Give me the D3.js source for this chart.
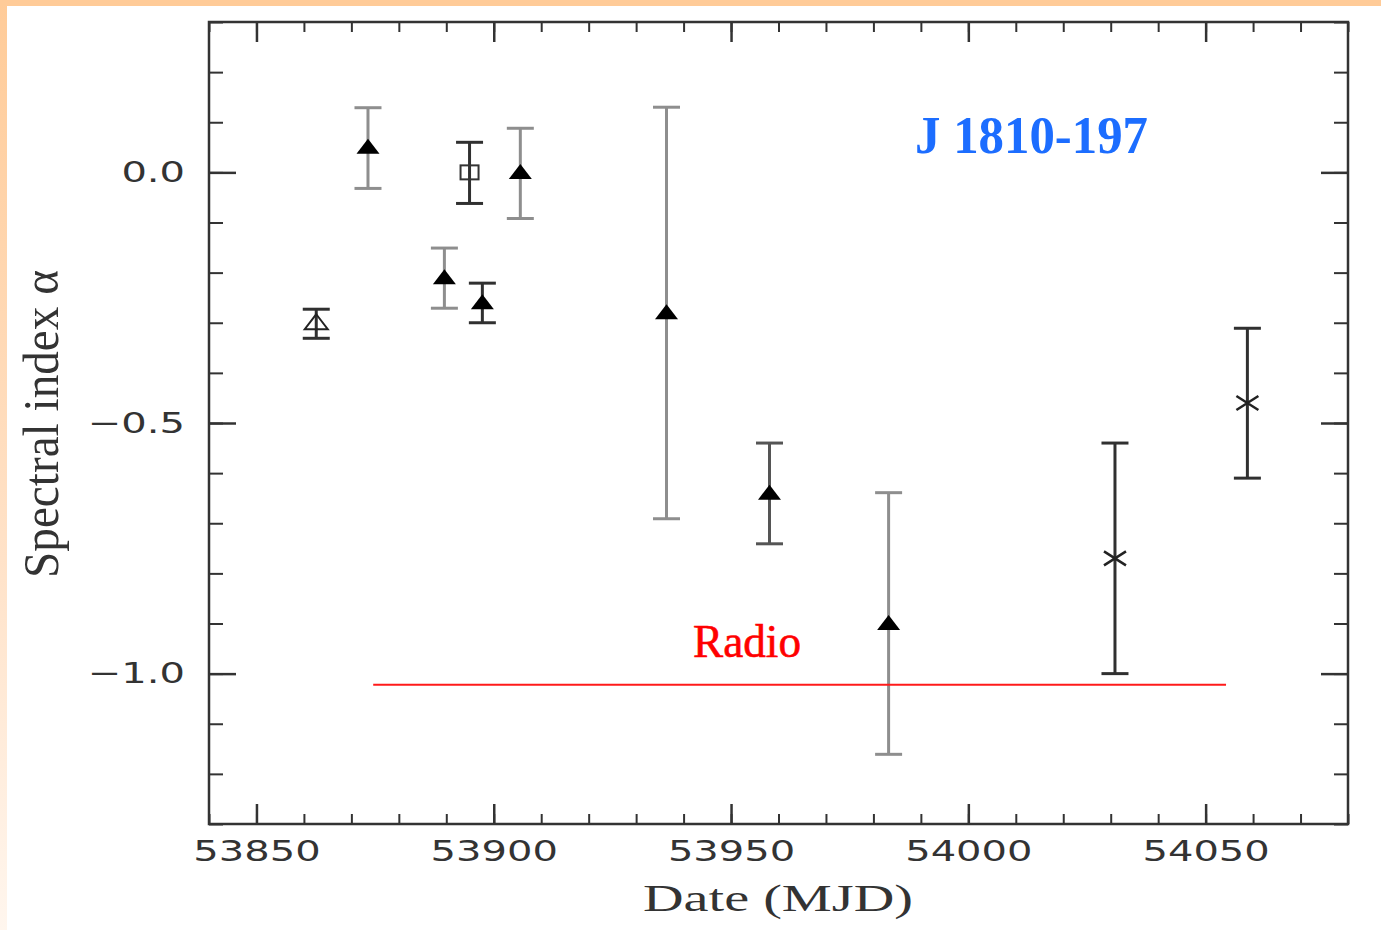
<!DOCTYPE html>
<html>
<head>
<meta charset="utf-8">
<script src="https://cdn.jsdelivr.net/npm/d3@7"></script>
<style>
  html, body { margin: 0; padding: 0; background: #fff; }
  svg { display: block; }
</style>
</head>
<body>
<svg id="chart" width="1381" height="930"></svg>
<script>
// ---- data ----
const mjd      = [53862.6, 53873.5, 53894.9, 53905.6, 53889.6, 53897.6, 53936.4, 53958.1, 53983.2, 54030.9, 54058.8];
const alpha    = [-0.30,   0.05,    0.0,     0.0,     -0.21,   -0.26,   -0.28,   -0.64,   -0.90,   -0.77,   -0.46];
const alphaLo  = [-0.331, -0.032,  -0.062,  -0.092,  -0.271,  -0.300,  -0.691,  -0.741,  -1.161,  -1.000,  -0.610];
const alphaHi  = [-0.273,  0.129,   0.060,   0.088,  -0.151,  -0.221,   0.130,  -0.540,  -0.639,  -0.540,  -0.311];
const markers  = ["openTriangle","triangle","square","triangle","triangle","triangle","triangle","triangle","triangle","cross","cross"];
const barTones = ["dark","gray","dark","gray","gray","dark","gray","mid","gray","dark","dark"];

const radioMjd   = [53874.6, 54054.3];
const radioAlpha = -1.022;

const xMajorTicks = [53850, 53900, 53950, 54000, 54050];
const xMinorTicks = d3.range(53840, 54081, 10);
const yMajorTicks = [-1.0, -0.5, 0.0];
const yMinorTicks = d3.range(-13, 4, 1).map(d => d / 10);

const title = "J 1810-197";
const xTitle = "Date (MJD)";
const yTitle = "Spectral index α";
const radioLabel = "Radio";

// ---- layout ----
const svg = d3.select("#chart");
const W = 1381, H = 930;
const L = 209, R = 1348, T = 22, B = 824;
const stretch = 1.38;

const x = d3.scaleLinear().domain([53840, 54080]).range([L, R]);
const y = d3.scaleLinear().domain([-1.3, 0.3]).range([B, T]);

// background with orange border strips
const defs = svg.append("defs");
const grad = defs.append("linearGradient").attr("id", "leftGrad")
  .attr("x1", 0).attr("y1", 0).attr("x2", 0).attr("y2", 1);
grad.append("stop").attr("offset", "0%").attr("stop-color", "#ffcb98");
grad.append("stop").attr("offset", "60%").attr("stop-color", "#ffe2c8");
grad.append("stop").attr("offset", "100%").attr("stop-color", "#fff6ee");

svg.append("rect").attr("width", W).attr("height", H).attr("fill", "#ffffff");
svg.append("rect").attr("x", 0).attr("y", 0).attr("width", 7).attr("height", H).attr("fill", "url(#leftGrad)");
svg.append("rect").attr("x", 0).attr("y", 0).attr("width", W).attr("height", 6).attr("fill", "#ffcb98");

const axisColor = "#333";

function styleAxis(g, width) {
  g.select(".domain").remove();
  g.selectAll(".tick line").attr("stroke", axisColor).attr("stroke-width", width);
}

// minor ticks
svg.append("g").attr("transform", `translate(0,${B})`)
  .call(d3.axisBottom(x).tickValues(xMinorTicks).tickSize(-10).tickFormat(""))
  .call(g => styleAxis(g, 2));
svg.append("g").attr("transform", `translate(0,${T})`)
  .call(d3.axisTop(x).tickValues(xMinorTicks).tickSize(-10).tickFormat(""))
  .call(g => styleAxis(g, 2));
svg.append("g").attr("transform", `translate(${L},0)`)
  .call(d3.axisLeft(y).tickValues(yMinorTicks).tickSize(-14).tickFormat(""))
  .call(g => styleAxis(g, 2));
svg.append("g").attr("transform", `translate(${R},0)`)
  .call(d3.axisRight(y).tickValues(yMinorTicks).tickSize(-14).tickFormat(""))
  .call(g => styleAxis(g, 2));

// major ticks with labels
const fmtX = d3.format("d");
const fmtY = d3.format(".1f");

svg.append("g").attr("transform", `translate(0,${B})`)
  .call(d3.axisBottom(x).tickValues(xMajorTicks).tickSize(-20).tickPadding(16).tickFormat(fmtX))
  .call(g => styleAxis(g, 2.5))
  .call(g => g.selectAll("text")
    .attr("font-family", "DejaVu Sans, sans-serif").attr("font-size", 29)
    .attr("fill", axisColor).attr("transform", `scale(${stretch},1)`));
svg.append("g").attr("transform", `translate(0,${T})`)
  .call(d3.axisTop(x).tickValues(xMajorTicks).tickSize(-20).tickFormat(""))
  .call(g => styleAxis(g, 2.5));
svg.append("g").attr("transform", `translate(${L},0)`)
  .call(d3.axisLeft(y).tickValues(yMajorTicks).tickSize(-27).tickPadding(24).tickFormat(fmtY))
  .call(g => styleAxis(g, 2.5))
  .call(g => g.selectAll("text")
    .attr("font-family", "DejaVu Sans, sans-serif").attr("font-size", 29)
    .attr("fill", axisColor)
    .attr("x", -24 / stretch)
    .attr("transform", `scale(${stretch},1)`));
svg.append("g").attr("transform", `translate(${R},0)`)
  .call(d3.axisRight(y).tickValues(yMajorTicks).tickSize(-27).tickFormat(""))
  .call(g => styleAxis(g, 2.5));

// frame
svg.append("rect").attr("x", L).attr("y", T).attr("width", R - L).attr("height", B - T)
  .attr("fill", "none").attr("stroke", axisColor).attr("stroke-width", 2.5);

// axis titles
svg.append("text").attr("x", 778).attr("y", 911)
  .attr("text-anchor", "middle")
  .attr("font-family", "Liberation Serif, serif").attr("font-size", 37)
  .attr("textLength", 270).attr("lengthAdjust", "spacingAndGlyphs")
  .attr("fill", axisColor).text(xTitle);

svg.append("text")
  .attr("transform", `translate(58,424) rotate(-90)`)
  .attr("text-anchor", "middle")
  .attr("font-family", "Liberation Serif, serif").attr("font-size", 50)
  .attr("textLength", 308).attr("lengthAdjust", "spacingAndGlyphs")
  .attr("fill", axisColor).text(yTitle);

// data
const points = mjd.map((m, i) => ({
  m, a: alpha[i], lo: alphaLo[i], hi: alphaHi[i], marker: markers[i], tone: barTones[i]
}));
const toneColor = { dark: "#303030", mid: "#555555", gray: "#8e8e8e" };
const capHalf = 13.5;

const eb = svg.append("g").attr("class", "errorbars");
eb.selectAll("line.stem").data(points).join("line").attr("class", "stem")
  .attr("x1", d => x(d.m)).attr("x2", d => x(d.m))
  .attr("y1", d => y(d.lo)).attr("y2", d => y(d.hi))
  .attr("stroke", d => toneColor[d.tone]).attr("stroke-width", 3);
eb.selectAll("line.capLo").data(points).join("line").attr("class", "capLo")
  .attr("x1", d => x(d.m) - capHalf).attr("x2", d => x(d.m) + capHalf)
  .attr("y1", d => y(d.lo)).attr("y2", d => y(d.lo))
  .attr("stroke", d => toneColor[d.tone]).attr("stroke-width", 3);
eb.selectAll("line.capHi").data(points).join("line").attr("class", "capHi")
  .attr("x1", d => x(d.m) - capHalf).attr("x2", d => x(d.m) + capHalf)
  .attr("y1", d => y(d.hi)).attr("y2", d => y(d.hi))
  .attr("stroke", d => toneColor[d.tone]).attr("stroke-width", 3);

// radio line
svg.append("line")
  .attr("x1", x(radioMjd[0])).attr("x2", x(radioMjd[1]))
  .attr("y1", y(radioAlpha)).attr("y2", y(radioAlpha))
  .attr("stroke", "#ff1a1a").attr("stroke-width", 2);

// markers
const triPath = "M0,-8.5L11.5,6.5L-11.5,6.5Z";
const mk = svg.append("g").attr("class", "markers");
mk.selectAll("path.tri").data(points.filter(d => d.marker === "triangle")).join("path")
  .attr("class", "tri").attr("d", triPath)
  .attr("transform", d => `translate(${x(d.m)},${y(d.a)})`)
  .attr("fill", "#000");
mk.selectAll("path.otri").data(points.filter(d => d.marker === "openTriangle")).join("path")
  .attr("class", "otri").attr("d", triPath)
  .attr("transform", d => `translate(${x(d.m)},${y(d.a)})`)
  .attr("fill", "none").attr("stroke", "#222").attr("stroke-width", 2);
mk.selectAll("rect.sq").data(points.filter(d => d.marker === "square")).join("rect")
  .attr("class", "sq")
  .attr("x", d => x(d.m) - 9).attr("y", d => y(d.a) - 7)
  .attr("width", 18).attr("height", 14)
  .attr("fill", "none").attr("stroke", "#333").attr("stroke-width", 2);
mk.selectAll("path.cross").data(points.filter(d => d.marker === "cross")).join("path")
  .attr("class", "cross")
  .attr("d", "M-11,-7L11,7M-11,7L11,-7")
  .attr("transform", d => `translate(${x(d.m)},${y(d.a)})`)
  .attr("fill", "none").attr("stroke", "#222").attr("stroke-width", 2.5);

// annotations
svg.append("text").attr("x", 915).attr("y", 153)
  .attr("font-family", "Liberation Serif, serif").attr("font-weight", "bold")
  .attr("font-size", 52).attr("textLength", 233).attr("lengthAdjust", "spacingAndGlyphs")
  .attr("fill", "#1c6dff").text(title);

svg.append("text").attr("x", 693).attr("y", 657)
  .attr("font-family", "Liberation Serif, serif")
  .attr("font-size", 46).attr("textLength", 108).attr("lengthAdjust", "spacingAndGlyphs")
  .attr("fill", "#ff0000").attr("stroke", "#ff0000").attr("stroke-width", 0.6)
  .text(radioLabel);
</script>
</body>
</html>
